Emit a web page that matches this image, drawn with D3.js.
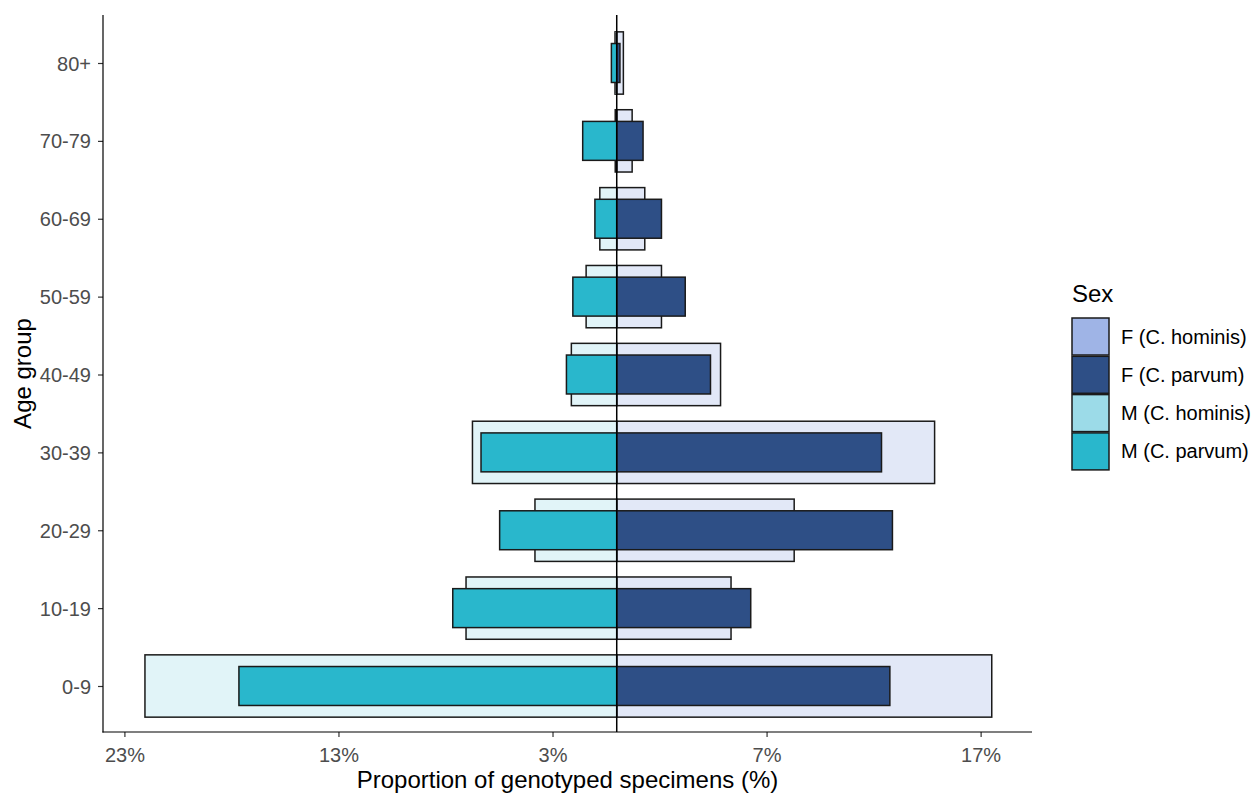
<!DOCTYPE html>
<html>
<head>
<meta charset="utf-8">
<script src="https://cdn.jsdelivr.net/npm/d3@7"></script>
<style>
    body { margin: 0; background: #fff; }
    text { font-family: "Liberation Sans", Arial, sans-serif; }
</style>
</head>
<body>
<svg id="chart" width="1256" height="794"></svg>
<script>
// age groups, bottom to top
const ageGroups = ['0-9', '10-19', '20-29', '30-39', '40-49', '50-59', '60-69', '70-79', '80+'];

// proportion of genotyped specimens (%)
const maleHominis = [22.04, 7.04, 3.82, 6.74, 2.12, 1.43, 0.79, 0.07, 0.08];
const femaleHominis = [17.52, 5.34, 8.29, 14.85, 4.85, 2.09, 1.31, 0.72, 0.31];
const maleParvum = [17.65, 7.66, 5.47, 6.34, 2.35, 2.05, 1.02, 1.59, 0.25];
const femaleParvum = [12.76, 6.26, 12.88, 12.37, 4.38, 3.20, 2.09, 1.23, 0.15];

const xTicks = [-23, -13, -3, 7, 17];

const legendLabels = ['F (C. hominis)', 'F (C. parvum)', 'M (C. hominis)', 'M (C. parvum)'];
const legendColours = ['#9fb4e6', '#2e4f86', '#9cdbe8', '#29b7cc'];

let svg = d3.select('#chart');
let panel = {left: 103, right: 1032, top: 15, bottom: 732};

let x = d3.scaleLinear()
    .domain([-24, 19.4])
    .range([panel.left, panel.right]);

let y = d3.scalePoint()
    .domain(ageGroups)
    .range([686, 63]);

let step = y.step();

// hominis bars are wide and faded, parvum bars narrow on top
function drawBars(values, side, colour, widthFrac, opacity) {
    let h = step * widthFrac;
    svg.append('g')
        .selectAll('rect')
        .data(values)
        .enter()
        .append('rect')
        .attr('x', d => side < 0 ? x(-d) : x(0))
        .attr('width', d => x(d) - x(0))
        .attr('y', (d, i) => y(ageGroups[i]) - h / 2)
        .attr('height', h)
        .attr('fill', colour)
        .attr('fill-opacity', opacity)
        .attr('stroke', '#1a1a1a')
        .attr('stroke-width', 1.5);
}

drawBars(maleHominis, -1, legendColours[2], 0.8, 0.3);
drawBars(femaleHominis, 1, legendColours[0], 0.8, 0.3);
drawBars(maleParvum, -1, legendColours[3], 0.5, 1);
drawBars(femaleParvum, 1, legendColours[1], 0.5, 1);

// centre line
svg.append('line')
    .attr('x1', x(0)).attr('x2', x(0))
    .attr('y1', panel.top).attr('y2', panel.bottom)
    .attr('stroke', '#000')
    .attr('stroke-width', 1.5);

// axes
let xAxis = svg.append('g')
    .attr('transform', `translate(0,${panel.bottom})`)
    .call(d3.axisBottom(x).tickValues(xTicks).tickFormat(d => Math.abs(d) + '%').tickSize(5).tickSizeOuter(0));
xAxis.select('.domain').remove();
xAxis.selectAll('line').attr('stroke', '#333').attr('stroke-width', 1.2);
xAxis.selectAll('text')
    .attr('y', 30)
    .attr('dy', null)
    .attr('fill', '#4d4d4d')
    .style('font-size', '20px');

let yAxis = svg.append('g')
    .attr('transform', `translate(${panel.left},0)`)
    .call(d3.axisLeft(y).tickSize(5).tickSizeOuter(0));
yAxis.select('.domain').remove();
yAxis.selectAll('line').attr('stroke', '#333').attr('stroke-width', 1.2);
yAxis.selectAll('text')
    .attr('x', -12)
    .attr('dy', '0.35em')
    .attr('fill', '#4d4d4d')
    .style('font-size', '20px');

svg.append('line')
    .attr('x1', panel.left).attr('x2', panel.left)
    .attr('y1', panel.top).attr('y2', panel.bottom + 0.6)
    .attr('stroke', '#000').attr('stroke-width', 1.2);
svg.append('line')
    .attr('x1', panel.left - 0.6).attr('x2', panel.right)
    .attr('y1', panel.bottom).attr('y2', panel.bottom)
    .attr('stroke', '#000').attr('stroke-width', 1.2);

// axis titles
svg.append('text')
    .attr('x', (panel.left + panel.right) / 2)
    .attr('y', 788)
    .attr('text-anchor', 'middle')
    .style('font-size', '24px')
    .text('Proportion of genotyped specimens (%)');

svg.append('text')
    .attr('transform', `translate(31,${(panel.top + panel.bottom) / 2}) rotate(-90)`)
    .attr('text-anchor', 'middle')
    .style('font-size', '24px')
    .text('Age group');

// legend
let legend = svg.append('g').attr('transform', 'translate(1072,0)');
legend.append('text')
    .attr('x', 0)
    .attr('y', 302)
    .style('font-size', '24px')
    .text('Sex');

let keySize = 37;
let keyStep = 38.3;
let keys = legend.selectAll('g.key')
    .data(legendLabels)
    .enter()
    .append('g')
    .attr('class', 'key')
    .attr('transform', (d, i) => `translate(0,${318 + i * keyStep})`);

keys.append('rect')
    .attr('width', keySize)
    .attr('height', keySize)
    .attr('fill', (d, i) => legendColours[i])
    .attr('stroke', '#1a1a1a')
    .attr('stroke-width', 1.5);

keys.append('text')
    .attr('x', 49)
    .attr('y', keySize / 2)
    .attr('dy', '0.35em')
    .style('font-size', '20px')
    .text(d => d);
</script>
</body>
</html>
